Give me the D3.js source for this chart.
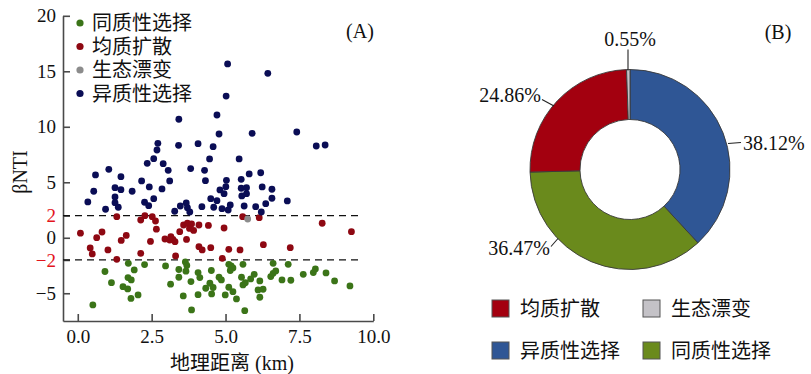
<!DOCTYPE html>
<html>
<head>
<meta charset="utf-8">
<script src="https://cdn.jsdelivr.net/npm/d3@7"></script>
<style>
  html, body { margin: 0; padding: 0; background: #fff; }
  svg { display: block; }
  .serif { font-family: "Liberation Serif", "Times New Roman", "Noto Sans CJK SC", serif; }
  .cjk { font-family: "Liberation Serif", "Noto Sans CJK SC", sans-serif; }
</style>
</head>
<body>
<svg id="chart" width="811" height="374"></svg>
<script>
// ---- Panel A: βNTI versus geographic distance (km) ----
// [distance, βNTI] pairs for each assembly process
const heteroSelection = [
  [3.42,10.68],[2.71,8.51],[2.68,7.91],[3.41,8.33],[4.07,8.48],[4.46,7.10],[4.58,8.21],[2.57,7.13],
  [2.35,6.71],[2.89,6.68],[3.06,6.08],[3.82,6.23],[4.29,6.08],[0.60,5.66],[1.05,6.17],[1.46,5.50],
  [2.16,5.12],[3.11,5.12],[4.32,5.14],[0.54,4.19],[1.26,4.51],[1.46,4.33],[1.84,4.19],[2.42,4.58],
  [2.85,4.40],[0.34,3.23],[1.26,3.68],[1.26,3.16],[1.37,2.75],[0.94,2.57],[2.26,3.20],[2.40,2.89],
  [2.57,3.52],[3.28,2.39],[3.47,2.86],[3.67,3.14],[3.71,2.71],[3.79,2.32],[4.20,2.80],[4.50,3.52],
  [5.07,15.66],[6.43,14.82],[5.02,12.77],[4.71,11.06],[4.78,9.35],[5.90,9.41],[7.41,9.53],[8.07,8.27],
  [8.37,8.36],[5.46,7.10],[5.80,5.75],[6.19,5.86],[5.53,5.27],[5.03,5.18],[4.81,4.31],[5.01,4.60],
  [4.95,3.97],[5.53,4.46],[5.71,4.51],[5.55,3.77],[5.71,3.97],[6.24,4.58],[6.57,4.37],[6.57,3.56],
  [6.36,3.07],[7.09,3.32],[4.71,3.34],[4.60,2.75],[4.88,2.62],[5.09,2.50],[5.16,2.95],[5.63,2.86],
  [6.02,2.80],[6.21,2.32]
];
const homoDispersal = [
  [1.32,1.90],[2.13,1.60],[2.27,1.99],[2.52,1.90],[2.63,1.51],[2.66,0.77],[0.09,0.41],[0.82,0.52],
  [0.64,0.01],[1.64,0.21],[1.47,-0.24],[2.46,-0.33],[0.42,-0.92],[0.49,-1.46],[1.02,-1.10],[2.13,-1.40],
  [1.32,-1.94],[2.95,-0.11],[3.15,0.10],[3.22,-0.15],[3.29,-0.35],[3.11,-0.20],[3.45,0.55],[3.58,1.15],
  [3.71,1.31],[3.85,1.24],[3.78,0.84],[3.92,0.66],[3.68,-0.15],[4.10,1.15],[4.42,1.11],[4.10,-0.80],
  [4.21,-1.10],[4.50,-0.89],[3.31,-1.64],[5.58,1.90],[6.14,1.81],[4.95,0.88],[5.11,-1.04],[5.49,-1.10],
  [4.89,-1.85],[6.28,-0.62],[7.19,-0.89],[8.27,1.31],[9.26,0.55]
];
const ecoDrift = [
  [5.75,1.69]
];
const homoSelection = [
  [0.51,-6.05],[0.92,-3.04],[1.14,-4.05],[1.53,-4.41],[1.69,-4.61],[1.71,-2.30],[1.91,-2.90],[1.70,-3.59],
  [1.81,-3.80],[1.80,-5.47],[2.04,-5.15],[2.26,-2.42],[2.97,-2.54],[3.14,-4.18],[3.42,-2.86],[3.42,-3.56],
  [3.64,-2.18],[3.69,-2.50],[3.66,-3.01],[3.57,-5.24],[3.83,-3.95],[3.85,-6.50],[4.07,-3.14],[4.13,-3.59],
  [4.07,-5.13],[4.33,-4.55],[4.52,-2.95],[4.47,-4.10],[4.58,-4.48],[4.53,-5.06],[4.78,-3.56],[4.86,-3.80],
  [4.99,-5.15],[5.11,-4.46],[5.25,-4.86],[5.37,-5.51],[5.11,-2.39],[5.19,-2.54],[5.25,-2.72],[5.16,-2.95],
  [5.59,-2.39],[5.54,-3.56],[5.59,-4.25],[5.67,-4.05],[5.85,-3.71],[5.97,-3.29],[6.16,-3.89],[6.10,-4.70],
  [6.27,-4.64],[6.16,-5.36],[5.65,-6.57],[6.61,-2.30],[7.12,-2.39],[6.53,-3.50],[6.61,-3.20],[6.70,-2.99],
  [6.91,-3.80],[7.21,-3.83],[7.63,-3.29],[7.97,-3.14],[8.04,-2.81],[8.40,-3.17],[8.69,-3.89],[9.21,-4.34]
];

const xTicks = [0, 2.5, 5, 7.5, 10];
const yTicks = [-5, -2, 0, 2, 5, 10, 15, 20];
const thresholds = [2, -2];

// legend order in panel A (top to bottom)
const scatterSeries = [
  { name: "同质性选择", color: "#3b7418", data: homoSelection },
  { name: "均质扩散",   color: "#8e0812", data: homoDispersal },
  { name: "生态漂变",   color: "#8c8c8c", data: ecoDrift },
  { name: "异质性选择", color: "#0a0d55", data: heteroSelection }
];

// ---- Panel B: share of each process (%) ----
const processNames = ["异质性选择", "同质性选择", "均质扩散", "生态漂变"];
const processShares = [38.12, 36.47, 24.86, 0.55];
const processColors = ["#2f5695", "#6a8a1c", "#a3000f", "#c4c2c7"];
// legend order in panel B
const pieLegendOrder = ["均质扩散", "生态漂变", "异质性选择", "同质性选择"];

const svg = d3.select("#chart");

// ---------- scatter ----------
const x = d3.scaleLinear().domain([-0.5, 10]).range([63, 373.3]);
const y = d3.scaleLinear().domain([-7.5, 20]).range([321, 15.8]);

const axisColor = "#4a4a4a";

const gx = svg.append("g")
  .attr("transform", `translate(0,${y(-7.5)})`)
  .call(d3.axisBottom(x).tickValues(xTicks).tickFormat(d3.format(".1f"))
        .tickSizeInner(-7).tickSizeOuter(0).tickPadding(9));
const gy = svg.append("g")
  .attr("transform", `translate(${x(-0.5)},0)`)
  .call(d3.axisLeft(y).tickValues(yTicks).tickFormat(d3.format("d"))
        .tickSizeInner(-7).tickSizeOuter(0).tickPadding(7));

[gx, gy].forEach(g => {
  g.select(".domain").attr("stroke", axisColor).attr("stroke-width", 1.6);
  g.selectAll(".tick line").attr("stroke", axisColor).attr("stroke-width", 1.6);
  g.selectAll(".tick text")
    .attr("class", "serif")
    .attr("font-size", 19)
    .attr("fill", "#111");
});
gy.selectAll(".tick text")
  .filter(d => thresholds.includes(d))
  .attr("fill", "#e3141c");

// threshold lines at βNTI = ±2
svg.append("g").selectAll("line")
  .data(thresholds)
  .join("line")
  .attr("x1", x(-0.5)).attr("x2", x(9.55))
  .attr("y1", d => y(d)).attr("y2", d => y(d))
  .attr("stroke", "#111")
  .attr("stroke-width", 1.3)
  .attr("stroke-dasharray", "7,5");

// points
scatterSeries.forEach(s => {
  svg.append("g").selectAll("circle")
    .data(s.data)
    .join("circle")
    .attr("cx", d => x(d[0]))
    .attr("cy", d => y(d[1]))
    .attr("r", 3.4)
    .attr("fill", s.color);
});

// legend
const legA = svg.append("g").attr("transform", "translate(80,23)");
scatterSeries.forEach((s, i) => {
  const row = legA.append("g").attr("transform", `translate(0,${i * 23.5})`);
  row.append("circle").attr("r", 3.6).attr("fill", s.color);
  row.append("text")
    .attr("class", "cjk")
    .attr("x", 12).attr("y", 7)
    .attr("font-size", 20)
    .attr("fill", "#111")
    .text(s.name);
});

// axis titles
svg.append("text")
  .attr("class", "cjk")
  .attr("x", 232).attr("y", 370)
  .attr("text-anchor", "middle")
  .attr("font-size", 20)
  .attr("fill", "#111")
  .text("地理距离 (km)");
svg.append("text")
  .attr("class", "serif")
  .attr("transform", "translate(27,172) rotate(-90)")
  .attr("text-anchor", "middle")
  .attr("font-size", 20)
  .attr("fill", "#111")
  .text("βNTI");

svg.append("text")
  .attr("class", "serif")
  .attr("x", 360).attr("y", 38)
  .attr("text-anchor", "middle")
  .attr("font-size", 20)
  .attr("fill", "#111")
  .text("(A)");

// ---------- donut ----------
const cx = 630, cy = 169.5;
const pieData = processNames.map((n, i) => ({ name: n, value: processShares[i], color: processColors[i] }));
const pie = d3.pie().sort(null).value(d => d.value);
const arc = d3.arc().innerRadius(50).outerRadius(100);

const gPie = svg.append("g").attr("transform", `translate(${cx},${cy})`);
gPie.selectAll("path")
  .data(pie(pieData))
  .join("path")
  .attr("d", arc)
  .attr("fill", d => d.data.color)
  .attr("stroke", "#3a3a3a")
  .attr("stroke-width", 0.9);

// leader lines and value labels (offsets from donut centre)
const labelLayout = {
  "异质性选择": { line: [[98, -26], [111, -27]], text: [113, -19.5], anchor: "start" },
  "同质性选择": { line: [[-72, 69], [-79, 77]], text: [-80, 85.5], anchor: "end" },
  "均质扩散":   { line: [[-76, -63.5], [-88, -70]], text: [-89, -67.5], anchor: "end" },
  "生态漂变":   { line: [[-2, -99], [-2, -120]], text: [0, -124], anchor: "middle" }
};
pieData.forEach(d => {
  const L = labelLayout[d.name];
  gPie.append("line")
    .attr("x1", L.line[0][0]).attr("y1", L.line[0][1])
    .attr("x2", L.line[1][0]).attr("y2", L.line[1][1])
    .attr("stroke", "#222").attr("stroke-width", 1.1);
  gPie.append("text")
    .attr("class", "serif")
    .attr("x", L.text[0]).attr("y", L.text[1])
    .attr("text-anchor", L.anchor)
    .attr("font-size", 20)
    .attr("fill", "#111")
    .text(d3.format(".2f")(d.value) + "%");
});

svg.append("text")
  .attr("class", "serif")
  .attr("x", 778).attr("y", 39)
  .attr("text-anchor", "middle")
  .attr("font-size", 20)
  .attr("fill", "#111")
  .text("(B)");

// donut legend, two columns
const legB = svg.append("g");
pieLegendOrder.forEach((name, i) => {
  const d = pieData.find(p => p.name === name);
  const col = i % 2, row = Math.floor(i / 2);
  const gx0 = 492 + col * 151, gy0 = 300 + row * 42;
  legB.append("rect")
    .attr("x", gx0).attr("y", gy0)
    .attr("width", 17).attr("height", 17)
    .attr("fill", d.color)
    .attr("stroke", "#555").attr("stroke-width", 1);
  legB.append("text")
    .attr("class", "cjk")
    .attr("x", gx0 + 28).attr("y", gy0 + 15.5)
    .attr("font-size", 20)
    .attr("fill", "#111")
    .text(name);
});
</script>
</body>
</html>
